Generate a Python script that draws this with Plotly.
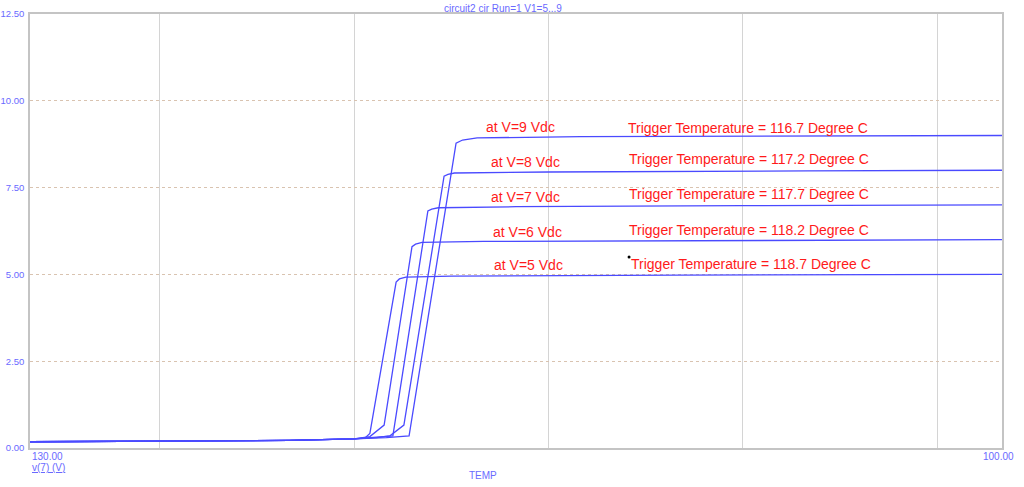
import plotly.graph_objects as go

# ---- data ----
volts = [5, 6, 7, 8, 9]
trigger_temps = [118.7, 118.2, 117.7, 117.2, 116.7]

temp_v5 = [130, 126, 122, 120, 119.66, 119.51, 118.70, 118.60, 118.40, 117.0, 110.0, 100]
val_v5 = [0.18, 0.19, 0.22, 0.26, 0.29, 0.42, 4.78, 4.87, 4.92, 4.95, 4.98, 5.00]

temp_v6 = [130, 126, 122, 120, 119.51, 119.07, 118.21, 118.10, 117.90, 116.0, 108.0, 100]
val_v6 = [0.18, 0.19, 0.22, 0.26, 0.33, 0.66, 5.80, 5.87, 5.92, 5.95, 5.98, 6.00]

temp_v7 = [130, 126, 122, 120, 119.3, 118.80, 117.72, 117.60, 117.40, 115.0, 108.0, 100]
val_v7 = [0.18, 0.19, 0.22, 0.26, 0.30, 0.35, 6.83, 6.88, 6.92, 6.95, 6.98, 7.00]

temp_v8 = [130, 126, 122, 120, 119.3, 118.89, 118.46, 117.22, 117.10, 116.90, 114.0, 106.0, 100]
val_v8 = [0.18, 0.19, 0.22, 0.26, 0.30, 0.35, 0.66, 7.83, 7.88, 7.92, 7.95, 7.98, 8.00]

temp_v9 = [130, 126, 122, 120, 119.0, 118.30, 116.85, 116.65, 116.20, 113.0, 106.0, 100]
val_v9 = [0.18, 0.19, 0.22, 0.26, 0.30, 0.35, 8.78, 8.87, 8.93, 8.97, 8.99, 9.00]

series = [(temp_v5, val_v5), (temp_v6, val_v6), (temp_v7, val_v7), (temp_v8, val_v8), (temp_v9, val_v9)]

# label anchor positions (data coordinates)
label_x = [114.60, 114.66, 114.72, 114.72, 114.85]
label_y = [5.27, 6.22, 7.23, 8.24, 9.25]
trig_x = [111.51, 111.57, 111.57, 111.57, 111.60]
trig_y = [5.30, 6.28, 7.32, 8.32, 9.22]

y_ticks = [0, 2.5, 5, 7.5, 10, 12.5]

LINE = "#4a4aff"
TXT = "#6a6aff"
RED = "#ff1a1a"
FONT = "Liberation Sans, Arial"

fig = go.Figure()
for t, v in series:
    fig.add_trace(go.Scatter(x=t, y=v, mode="lines", line=dict(color=LINE, width=1.3),
                             showlegend=False, hoverinfo="skip"))

for V, lx, ly, tx, ty, tt in zip(volts, label_x, label_y, trig_x, trig_y, trigger_temps):
    fig.add_annotation(x=lx, y=ly, xref="x", yref="y", text=f"at V={V} Vdc",
                       showarrow=False, xanchor="center", yanchor="middle",
                       font=dict(family=FONT, size=14, color=RED))
    fig.add_annotation(x=tx, y=ty, xref="x", yref="y",
                       text=f"Trigger Temperature = {tt} Degree C",
                       showarrow=False, xanchor="left", yanchor="middle",
                       font=dict(family=FONT, size=14, color=RED))

# small black dot
fig.add_trace(go.Scatter(x=[111.51], y=[5.50], mode="markers",
                         marker=dict(color="black", size=3), showlegend=False, hoverinfo="skip"))

fig.add_annotation(x=0, y=0, xref="paper", yref="paper", text="130.00", showarrow=False,
                   xanchor="left", yanchor="top", yshift=-1,
                   font=dict(family=FONT, size=10, color=TXT))
fig.add_annotation(x=0, y=0, xref="paper", yref="paper", text="<u>v(7) (V)</u>", showarrow=False,
                   xanchor="left", yanchor="top", yshift=-12,
                   font=dict(family=FONT, size=10, color=TXT))
fig.add_annotation(x=1, y=0, xref="paper", yref="paper", text="100.00", showarrow=False,
                   xanchor="right", yanchor="top", yshift=-1, xshift=14,
                   font=dict(family=FONT, size=10, color=TXT))
fig.add_annotation(x=0.5, y=0, xref="paper", yref="paper", text="TEMP", showarrow=False,
                   xanchor="center", yanchor="top", yshift=-20, xshift=-33,
                   font=dict(family=FONT, size=10, color=TXT))
fig.add_annotation(x=0.5, y=1, xref="paper", yref="paper", text="circuit2 cir Run=1 V1=5...9",
                   showarrow=False, xanchor="center", yanchor="bottom", yshift=-2, xshift=-13,
                   font=dict(family=FONT, size=10, color=TXT))

fig.update_layout(
    width=1024, height=487,
    margin=dict(l=30, r=22, t=14, b=39, autoexpand=False),
    paper_bgcolor="white", plot_bgcolor="white",
    xaxis=dict(range=[130, 100], tick0=0, dtick=6, showticklabels=False, ticks="",
               showgrid=True, gridcolor="#d4d4d4", gridwidth=1, automargin=False,
               showline=True, mirror=True, linecolor="#c4c4c4", linewidth=1.5, zeroline=False),
    yaxis=dict(range=[0, 12.5], tickvals=y_ticks, ticktext=[f"{v:.2f}" for v in y_ticks],
               tickfont=dict(family=FONT, size=9.5, color=TXT), automargin=False,
               ticks="", ticklabelstandoff=2,
               showgrid=True, gridcolor="#d9c3b0", griddash="dot", gridwidth=1,
               showline=True, mirror=True, linecolor="#c4c4c4", linewidth=1.5, zeroline=False),
)

# remove the default page margin so the fixed-size figure sits at the window's top-left
fig.write_html("out.html", config={"displayModeBar": False},
               post_script="document.body.style.margin='0px';document.body.style.overflow='hidden';")
